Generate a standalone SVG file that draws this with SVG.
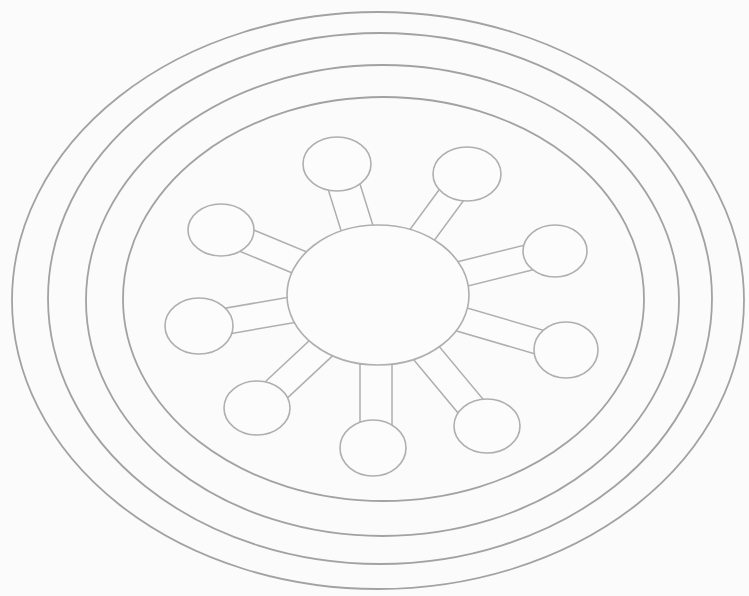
<svg xmlns="http://www.w3.org/2000/svg" width="749" height="596" viewBox="0 0 749 596">
  <style>
    .ring { fill: none; stroke: #a2a2a2; stroke-width: 1.8; }
    .node { fill: #fcfcfc; stroke: #afafaf; stroke-width: 1.6; }
    .bar { fill: #fcfcfc; stroke: #afafaf; stroke-width: 1.5; }
  </style>
  <rect width="749" height="596" fill="#fbfbfb"/>
  <g id="rings">
    <ellipse id="ring1" class="ring" cx="378" cy="300.5" rx="366" ry="288.5"/>
    <ellipse id="ring2" class="ring" cx="380" cy="298.5" rx="332" ry="265.5"/>
    <ellipse id="ring3" class="ring" cx="382.5" cy="300.5" rx="296.5" ry="235.5"/>
    <ellipse id="ring4" class="ring" cx="383.5" cy="299" rx="260.5" ry="202"/>
  </g>
  <g id="connectors">
    <rect class="bar" transform="translate(378 295) rotate(-107.4)" x="0" y="-16" width="137" height="32"/>
    <rect class="bar" transform="translate(378 295) rotate(-53.7)" x="0" y="-13" width="150" height="26"/>
    <rect class="bar" transform="translate(378 295) rotate(-157.5)" x="0" y="-12.5" width="170" height="25"/>
    <rect class="bar" transform="translate(378 295) rotate(-14)" x="0" y="-13" width="182" height="26"/>
    <rect class="bar" transform="translate(378 295) rotate(170.2)" x="0" y="-13" width="182" height="26"/>
    <rect class="bar" transform="translate(378 295) rotate(16.3)" x="0" y="-12.5" width="196" height="25"/>
    <rect class="bar" transform="translate(378 295) rotate(137)" x="0" y="-13.5" width="166" height="27"/>
    <rect class="bar" transform="translate(376 295) rotate(90)" x="0" y="-16" width="153" height="32"/>
    <rect class="bar" transform="translate(378 295) rotate(50.2)" x="0" y="-14" width="170" height="28"/>
  </g>
  <g id="hub"><ellipse class="node" cx="378" cy="295" rx="91" ry="70"/></g>
  <g id="sat-n"><ellipse class="node" cx="337" cy="164" rx="34" ry="27"/></g>
  <g id="sat-ne"><ellipse class="node" cx="467" cy="174" rx="34" ry="27"/></g>
  <g id="sat-wnw"><ellipse class="node" cx="221" cy="230" rx="33" ry="26"/></g>
  <g id="sat-ene"><ellipse class="node" cx="555" cy="251" rx="32" ry="26"/></g>
  <g id="sat-w"><ellipse class="node" cx="199" cy="326" rx="34" ry="28"/></g>
  <g id="sat-e"><ellipse class="node" cx="566" cy="350" rx="32" ry="28"/></g>
  <g id="sat-sw"><ellipse class="node" cx="257" cy="408" rx="33" ry="27"/></g>
  <g id="sat-s"><ellipse class="node" cx="373" cy="448" rx="33" ry="28"/></g>
  <g id="sat-se"><ellipse class="node" cx="487" cy="426" rx="33" ry="27"/></g>
</svg>
